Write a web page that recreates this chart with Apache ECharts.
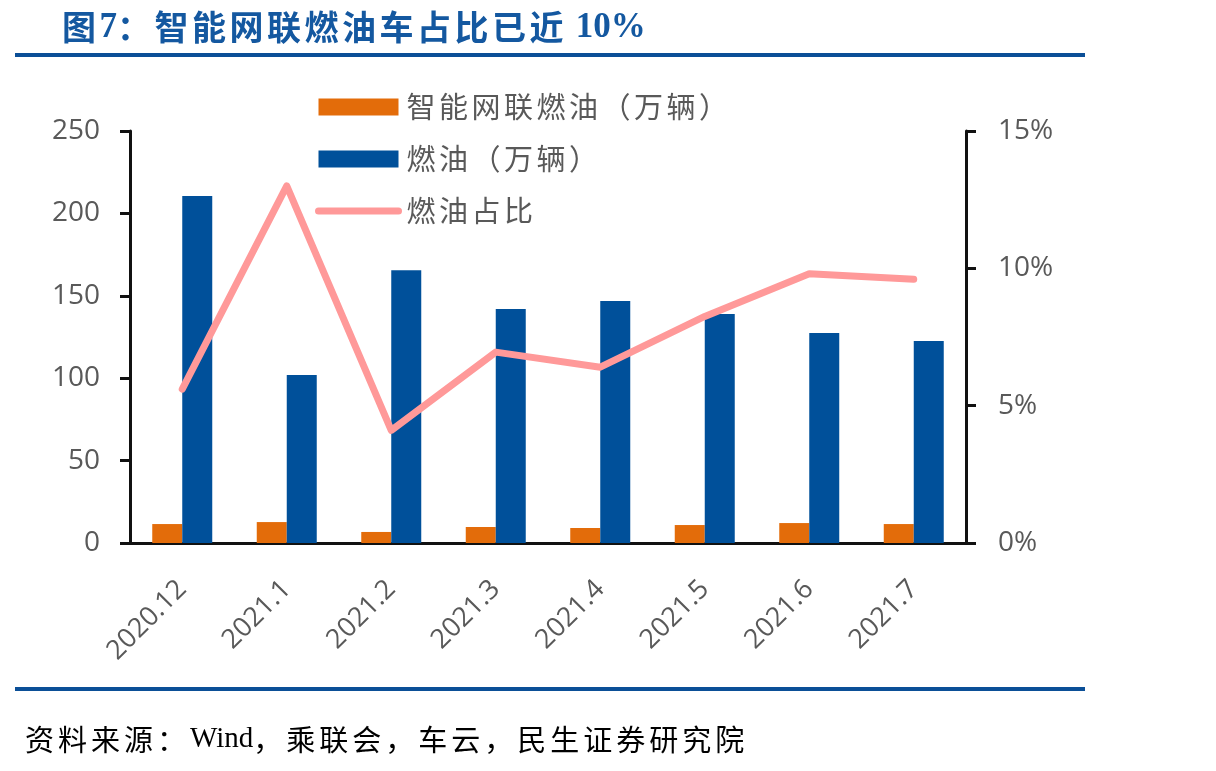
<!DOCTYPE html>
<html>
<head>
<meta charset="utf-8">
<script src="https://cdn.jsdelivr.net/npm/echarts@6/dist/echarts.min.js"></script>
<style>
  html, body { margin: 0; padding: 0; background: #fff; }
  #main { width: 1216px; height: 771px; }
</style>
</head>
<body>
<div id="main"></div>
<script>
// 数据
var categories = ['2020.12', '2021.1', '2021.2', '2021.3', '2021.4', '2021.5', '2021.6', '2021.7'];
var smartFuel = [11.5, 12.7, 6.7, 9.7, 9.1, 10.9, 12.1, 11.5];
var fuel = [210.5, 102, 165.5, 142, 146.8, 139, 127.4, 122.6];
var smartRatio = [5.6, 13.0, 4.1, 6.95, 6.4, 8.25, 9.8, 9.6];
var leftTicks = { min: 0, max: 250, interval: 50 };
var rightTicks = { min: 0, max: 15, interval: 5 };

// 中文字符按固定宽度排开，模拟原图的字距
function spaced(s, tag) {
    return s.split('').map(function (ch) {
        return /[\u3000-\u9fff\uff00-\uffef]/.test(ch) ? '{' + tag + '|' + ch + '}' : ch;
    }).join('');
}

var chart = echarts.init(document.getElementById('main'));
var axisColor = '#111';
var labelColor = '#595959';

chart.setOption({
    animation: false,
    graphic: [
        {
            type: 'text', left: 62, top: 10,
            style: {
                text: spaced('图7：智能网联燃油车占比已近 10%', 't'),
                fontSize: 35, fontWeight: 'bold',
                fontFamily: '"Liberation Serif", "Noto Sans CJK SC"', fill: '#1458A0',
                rich: { t: { width: 37.5, fontSize: 34, fontWeight: 'bold', fontFamily: 'Noto Sans CJK SC', fill: '#1458A0' } }
            }
        },
        { type: 'rect', shape: { x: 15, y: 53, width: 1070, height: 4 }, style: { fill: '#0B4F97' } },
        { type: 'rect', shape: { x: 15, y: 687, width: 1070, height: 4 }, style: { fill: '#0B4F97' } },
        {
            type: 'text', left: 25, top: 725,
            style: {
                text: spaced('资料来源：Wind，乘联会，车云，民生证券研究院', 'c'),
                fontSize: 29, fontFamily: '"Liberation Serif", "Noto Sans CJK SC"', fill: '#000',
                rich: { c: { width: 33, fontSize: 29, fontFamily: 'Noto Sans CJK SC', fill: '#000' } }
            }
        }
    ],
    legend: {
        orient: 'vertical',
        left: 310,
        top: 87,
        itemWidth: 80,
        itemHeight: 17,
        itemGap: 22,
        textStyle: {
            fontSize: 29, color: labelColor, fontFamily: 'Noto Sans CJK SC', lineHeight: 30, padding: [0, 0, 0, 3],
            rich: { c: { width: 32.5, fontSize: 29, color: labelColor, fontFamily: 'Noto Sans CJK SC', lineHeight: 30 } }
        },
        formatter: function (name) { return spaced(name, 'c'); },
        data: [
            { name: '智能网联燃油（万辆）', icon: 'rect' },
            { name: '燃油（万辆）', icon: 'rect' },
            { name: '燃油占比', itemStyle: { opacity: 0 }, lineStyle: { width: 7, cap: 'round', color: '#FF9999' } }
        ]
    },
    grid: { left: 130, right: 250, top: 131, bottom: 228 },
    xAxis: {
        type: 'category',
        data: categories,
        axisLine: { lineStyle: { color: axisColor, width: 3 } },
        axisTick: { length: 10, lineStyle: { color: axisColor, width: 3 } },
        axisLabel: { rotate: 45, fontSize: 27, color: labelColor, fontFamily: '"Open Sans"', margin: 42, interval: 0 }
    },
    yAxis: [
        {
            type: 'value', min: leftTicks.min, max: leftTicks.max, interval: leftTicks.interval,
            splitLine: { show: false },
            axisLine: { show: true, lineStyle: { color: axisColor, width: 3 } },
            axisTick: { show: true, length: 10, lineStyle: { color: axisColor, width: 3 } },
            axisLabel: { fontSize: 28, color: labelColor, fontFamily: '"Open Sans"', margin: 30 }
        },
        {
            type: 'value', min: rightTicks.min, max: rightTicks.max, interval: rightTicks.interval,
            splitLine: { show: false },
            axisLine: { show: true, lineStyle: { color: axisColor, width: 3 } },
            axisTick: { show: true, length: 10, lineStyle: { color: axisColor, width: 3 } },
            axisLabel: { fontSize: 28, color: labelColor, fontFamily: '"Open Sans"', margin: 32, formatter: '{value}%' }
        }
    ],
    series: [
        {
            name: '智能网联燃油（万辆）',
            type: 'bar',
            barWidth: 30,
            barGap: '0%',
            itemStyle: { color: '#E36C0A' },
            data: smartFuel
        },
        {
            name: '燃油（万辆）',
            type: 'bar',
            barWidth: 30,
            itemStyle: { color: '#00509A' },
            data: fuel
        },
        {
            name: '燃油占比',
            type: 'line',
            yAxisIndex: 1,
            symbol: 'none',
            z: 5,
            itemStyle: { color: '#FF9999' },
            lineStyle: { color: '#FF9999', width: 7, cap: 'round', join: 'round' },
            data: smartRatio
        }
    ]
});
</script>
</body>
</html>
